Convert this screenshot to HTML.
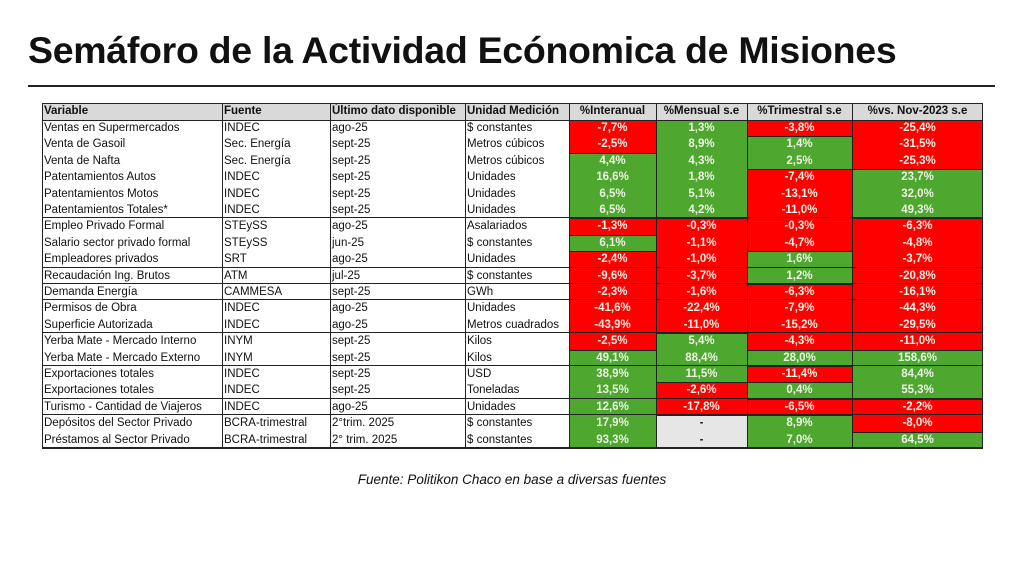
<!DOCTYPE html>
<html><head><meta charset="utf-8">
<style>
body{margin:0;width:1024px;height:576px;background:#fff;position:relative;overflow:hidden;font-family:"Liberation Sans",sans-serif;}
#title{position:absolute;left:28px;top:29px;font-size:37.5px;font-weight:bold;color:#111;letter-spacing:-0.3px;white-space:nowrap;}
#rule{position:absolute;left:28px;top:85px;width:967px;height:2px;background:#222;}
#tbl{position:absolute;left:0;top:0;}
.c{position:absolute;box-sizing:border-box;font-size:11.5px;line-height:16px;white-space:nowrap;overflow:hidden;color:#111;}
.h{font-weight:bold;background:#d9d9d9;}
.n{text-align:center;font-weight:bold;color:#eef3e6;}
#cap{position:absolute;left:0;width:1024px;top:472px;text-align:center;font-style:italic;font-size:13.5px;color:#111;}
</style></head><body>
<div id="title">Semáforo de la Actividad Ecónomica de Misiones</div>
<div id="rule"></div>
<div id="tbl"></div>
<div id="cap">Fuente: Politikon Chaco en base a diversas fuentes</div>
<script>
const headers=["Variable","Fuente","Último dato disponible","Unidad Medición","%Interanual","%Mensual s.e","%Trimestral s.e","%vs. Nov-2023 s.e"];
const variables=["Ventas en Supermercados","Venta de Gasoil","Venta de Nafta","Patentamientos Autos","Patentamientos Motos","Patentamientos Totales*","Empleo Privado Formal","Salario sector privado formal","Empleadores privados","Recaudación Ing. Brutos","Demanda Energía","Permisos de Obra","Superficie Autorizada","Yerba Mate - Mercado Interno","Yerba Mate - Mercado Externo","Exportaciones totales","Exportaciones totales","Turismo - Cantidad de Viajeros","Depósitos del Sector Privado","Préstamos al Sector Privado"];
const fuentes=["INDEC","Sec. Energía","Sec. Energía","INDEC","INDEC","INDEC","STEySS","STEySS","SRT","ATM","CAMMESA","INDEC","INDEC","INYM","INYM","INDEC","INDEC","INDEC","BCRA-trimestral","BCRA-trimestral"];
const fechas=["ago-25","sept-25","sept-25","sept-25","sept-25","sept-25","ago-25","jun-25","ago-25","jul-25","sept-25","ago-25","ago-25","sept-25","sept-25","sept-25","sept-25","ago-25","2°trim. 2025","2° trim. 2025"];
const unidades=["$ constantes","Metros cúbicos","Metros cúbicos","Unidades","Unidades","Unidades","Asalariados","$ constantes","Unidades","$ constantes","GWh","Unidades","Metros cuadrados","Kilos","Kilos","USD","Toneladas","Unidades","$ constantes","$ constantes"];
const interanual=[-7.7,-2.5,4.4,16.6,6.5,6.5,-1.3,6.1,-2.4,-9.6,-2.3,-41.6,-43.9,-2.5,49.1,38.9,13.5,12.6,17.9,93.3];
const mensual=[1.3,8.9,4.3,1.8,5.1,4.2,-0.3,-1.1,-1.0,-3.7,-1.6,-22.4,-11.0,5.4,88.4,11.5,-2.6,-17.8,null,null];
const trimestral=[-3.8,1.4,2.5,-7.4,-13.1,-11.0,-0.3,-4.7,1.6,1.2,-6.3,-7.9,-15.2,-4.3,28.0,-11.4,0.4,-6.5,8.9,7.0];
const vsNov=[-25.4,-31.5,-25.3,23.7,32.0,49.3,-6.3,-4.8,-3.7,-20.8,-16.1,-44.3,-29.5,-11.0,158.6,84.4,55.3,-2.2,-8.0,64.5];
const groupEnds=[5,8,9,10,12,14,16,17,19];

const colX=[42,222,330,465,569,656,747,852,983];
const top0=103, hH=17, rH=16.4;
const tbl=document.getElementById('tbl');
function cell(x,y,w,h,txt,cls,bg){
  const d=document.createElement('div');
  d.className='c '+cls;
  d.style.left=x+'px';d.style.top=y+'px';d.style.width=w+'px';d.style.height=h+'px';
  d.style.lineHeight=h+'px';
  if(bg)d.style.background=bg;
  d.style.paddingLeft=cls.includes('n')?'0':'2px';
  d.textContent=txt;
  tbl.appendChild(d);return d;
}
function line(x,y,w,h){
  const d=document.createElement('div');
  d.style.cssText='position:absolute;background:#222;left:'+x+'px;top:'+y+'px;width:'+w+'px;height:'+h+'px;';
  
  
  tbl.appendChild(d);
}
headers.forEach((h,i)=>{
  const d=cell(colX[i],top0,colX[i+1]-colX[i],hH,h,'h'+(i>=4?' hn':''),null);
  if(i>=4){d.style.textAlign='center';d.style.paddingLeft='0';}
  
  
});
const fmt=v=>v===null?'-':v.toFixed(1).replace('.',',')+'%';
const col=v=>v===null?'#e6e6e6':(v<0?'#ff0000':'#4ea72e');
const numCols=[interanual,mensual,trimestral,vsNov];
const textCols=[variables,fuentes,fechas,unidades];
for(let r=0;r<variables.length;r++){
  const y=top0+hH+r*rH;
  textCols.forEach((arr,i)=>{
    const d=cell(colX[i],y,colX[i+1]-colX[i],rH,arr[r],'',null);
    
    
  });
  numCols.forEach((arr,j)=>{
    const i=j+4,v=arr[r];
    const d=cell(colX[i],y,colX[i+1]-colX[i],rH+0.5,fmt(v),'n',col(v));
    if(v===null)d.style.color='#222';
    
    
    if(r>0 && col(arr[r-1])!==col(v)) line(colX[i],y,colX[i+1]-colX[i],1);
  });
}
const bottom=top0+hH+variables.length*rH;
line(colX[0],top0,colX[8]-colX[0],1);
line(colX[0],top0+hH,colX[8]-colX[0],1);
groupEnds.forEach(g=>{
  const y=top0+hH+(g+1)*rH;
  line(colX[0],Math.round(y)-1,colX[8]-colX[0],(g===19)?2:1);
});
colX.forEach((x,i)=>line(x-(i===8?1:0),top0,1,bottom-top0+1));
</script>
</body></html>
